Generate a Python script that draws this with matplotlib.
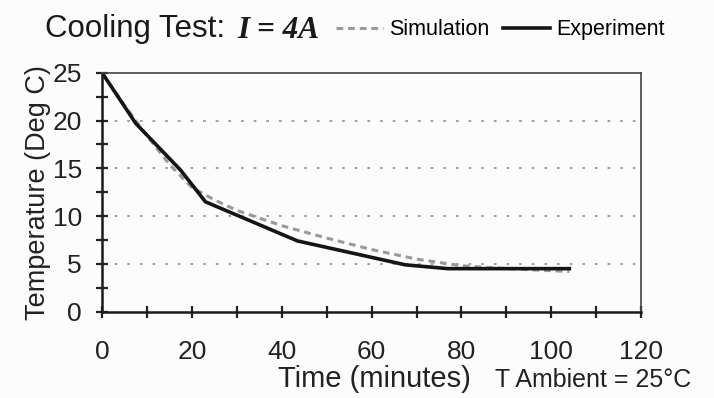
import matplotlib.pyplot as plt
from matplotlib.ticker import MultipleLocator

# data
exp_time = [0, 7.5, 17.5, 23, 43.5, 67.5, 77, 104]
exp_temp = [25, 19.7, 14.8, 11.5, 7.4, 4.9, 4.5, 4.5]

sim_time = [0, 5, 10, 15, 20, 25, 30, 40, 50, 60, 70, 80, 90, 104]
sim_temp = [25, 21.6, 18.4, 15.4, 13.0, 11.7, 10.6, 9.0, 7.7, 6.5, 5.5, 4.8, 4.5, 4.2]

x_ticks = [0, 20, 40, 60, 80, 100, 120]
y_ticks = [0, 5, 10, 15, 20, 25]

plt.rcParams['font.family'] = ['Liberation Sans', 'DejaVu Sans']

fig = plt.figure(figsize=(7.14, 3.98), dpi=100, facecolor='#fcfcfc')
ax = fig.add_axes([0.143, 0.217, 0.755, 0.600])
ax.set_facecolor('#fcfcfc')

ax.plot(sim_time, sim_temp, color='#9a9a9a', lw=2.2, ls=(0, (2.2, 1.6)), label='Simulation')
ax.plot(exp_time, exp_temp, color='#151515', lw=2.6, label='Experiment')

ax.set_xlim(0, 120)
ax.set_ylim(0, 25)
ax.set_xticks(x_ticks)
ax.set_yticks(y_ticks)
ax.xaxis.set_minor_locator(MultipleLocator(10))
ax.yaxis.set_minor_locator(MultipleLocator(2.5))
ax.tick_params(which='both', direction='inout', length=9, width=1.6, color='#222222')
ax.tick_params(axis='x', labelsize=19, pad=16, colors='#222222')
ax.tick_params(axis='y', labelsize=19, pad=10, colors='#222222')

for v in y_ticks[1:-1]:
    ax.axhline(v, color='#999999', lw=1.3, ls=(0, (1.5, 5.5)), zorder=0)

for s in ['left', 'bottom']:
    ax.spines[s].set_linewidth(1.8)
    ax.spines[s].set_color('#1a1a1a')
for s in ['top', 'right']:
    ax.spines[s].set_linewidth(1.2)
    ax.spines[s].set_color('#444444')

ax.set_ylabel('Temperature (Deg C)', fontsize=19.5, color='#222222', labelpad=1)

fig.text(0.063, 0.907, 'Cooling Test:', fontsize=22.5, color='#1a1a1a', va='baseline')
fig.text(0.333, 0.905, 'I = 4A', fontsize=22.5, family='Liberation Serif',
         style='italic', weight='bold', color='#1a1a1a', va='baseline')

ax.legend(loc='center left', bbox_to_anchor=(0.470, 0.925), bbox_transform=fig.transFigure,
          ncol=2, frameon=False, fontsize=15.5, handlelength=2.2, handletextpad=0.3,
          columnspacing=0.6, borderpad=0, borderaxespad=0)

fig.text(0.389, 0.028, 'Time (minutes)', fontsize=21, color='#222222', va='baseline')
fig.text(0.693, 0.028, 'T Ambient = 25°C', fontsize=18, color='#222222', va='baseline')

fig.savefig('out.png', dpi=100, facecolor=fig.get_facecolor())
